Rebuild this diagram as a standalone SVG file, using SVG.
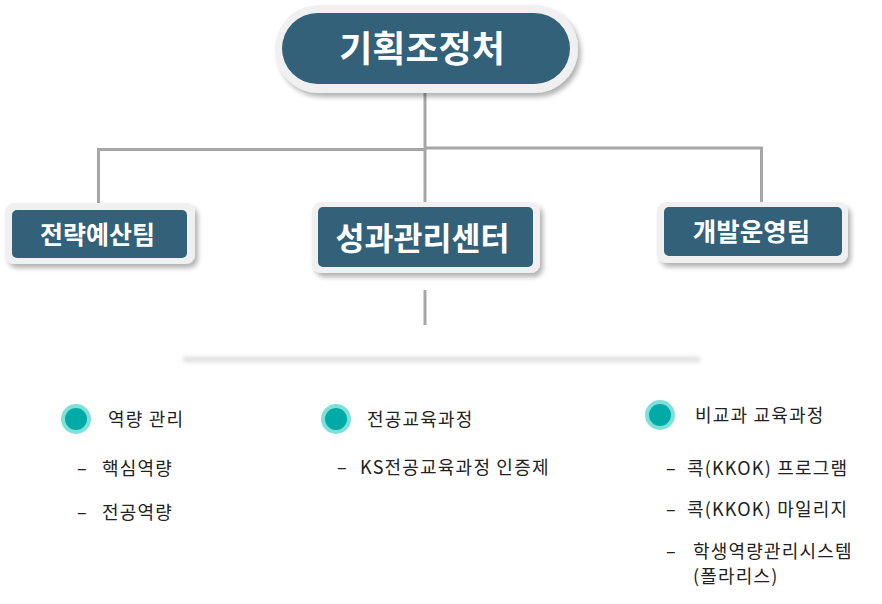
<svg xmlns="http://www.w3.org/2000/svg" width="882" height="604" viewBox="0 0 882 604">
  <defs>
    <filter id="sh" x="-10%" y="-20%" width="125%" height="150%">
      <feDropShadow dx="3" dy="4" stdDeviation="2.5" flood-color="#000" flood-opacity="0.3"/>
    </filter>
    <filter id="blur" x="-5%" y="-300%" width="110%" height="700%">
      <feGaussianBlur stdDeviation="2"/>
    </filter>
  </defs>
  <style>
    .outer { fill: #f0f0f0; }
    .inner { fill: #336179; }
    .title { font-family: "Noto Sans CJK KR", "Noto Sans", sans-serif; font-weight: bold; fill: #ffffff; text-anchor: middle; }
    .conn { stroke: #a6a6a6; stroke-width: 3; fill: none; }
    .head { font-family: "Noto Sans CJK KR", "Noto Sans", sans-serif; font-size: 18px; letter-spacing: 1.2px; fill: #222222; }
    .item { font-family: "Noto Sans CJK KR", "Noto Sans", sans-serif; font-size: 18px; letter-spacing: 1.2px; fill: #222222; }
    .dot-o { fill: #7fe0d9; }
    .dot-i { fill: #00aaa6; }
  </style>
  <rect width="882" height="604" fill="#ffffff"/>

  <g id="connectors">
    <path class="conn" d="M425 92 V204"/>
    <path class="conn" d="M425 149.5 H98.5 V205"/>
    <path class="conn" d="M425 148 H761.5 V204"/>
    <path class="conn" d="M425 290 V325"/>
  </g>

  <g id="node-top">
    <rect class="outer" x="275" y="5" width="303" height="88" rx="44" filter="url(#sh)"/>
    <rect class="inner" x="282" y="13" width="288" height="71" rx="35.5"/>
    <text class="title" x="422" y="62" font-size="36">기획조정처</text>
  </g>

  <g id="node-left">
    <rect class="outer" x="5" y="203" width="190" height="61" rx="9" filter="url(#sh)"/>
    <rect class="inner" x="12" y="210" width="175" height="48" rx="5"/>
    <text class="title" x="97.5" y="244" font-size="25">전략예산팀</text>
  </g>

  <g id="node-center">
    <rect class="outer" x="312" y="202" width="228" height="71" rx="9" filter="url(#sh)"/>
    <rect class="inner" x="318" y="207" width="215" height="60" rx="5"/>
    <text class="title" x="422.5" y="250" font-size="31.5">성과관리센터</text>
  </g>

  <g id="node-right">
    <rect class="outer" x="657" y="202" width="191" height="61" rx="9" filter="url(#sh)"/>
    <rect class="inner" x="664" y="207" width="178" height="49" rx="5"/>
    <text class="title" x="751.5" y="241" font-size="25.5">개발운영팀</text>
  </g>

  <g id="divider">
    <rect x="183" y="357" width="517" height="5" fill="#dcdcdc" filter="url(#blur)"/>
    <rect x="186" y="358" width="512" height="3" fill="#e6e6e6"/>
  </g>

  <g id="list-1">
    <circle class="dot-o" cx="76" cy="419" r="15"/>
    <circle class="dot-i" cx="76" cy="419" r="11"/>
    <text class="head" x="108" y="426">역량 관리</text>
    <text class="item" y="475"><tspan x="77">–</tspan><tspan x="102">핵심역량</tspan></text>
    <text class="item" y="519"><tspan x="77">–</tspan><tspan x="102">전공역량</tspan></text>
  </g>

  <g id="list-2">
    <circle class="dot-o" cx="336" cy="419" r="15"/>
    <circle class="dot-i" cx="336" cy="419" r="11"/>
    <text class="head" x="367" y="426">전공교육과정</text>
    <text class="item" y="474"><tspan x="337">–</tspan><tspan x="360">KS전공교육과정 인증제</tspan></text>
  </g>

  <g id="list-3">
    <circle class="dot-o" cx="660" cy="415" r="15"/>
    <circle class="dot-i" cx="660" cy="415" r="11"/>
    <text class="head" x="695" y="422">비교과 교육과정</text>
    <text class="item" y="475"><tspan x="666">–</tspan><tspan x="687">콕(KKOK) 프로그램</tspan></text>
    <text class="item" y="516"><tspan x="666">–</tspan><tspan x="687">콕(KKOK) 마일리지</tspan></text>
    <text class="item" y="558"><tspan x="666">–</tspan><tspan x="693">학생역량관리시스템</tspan></text>
    <text class="item" x="693" y="583">(폴라리스)</text>
  </g>
</svg>
